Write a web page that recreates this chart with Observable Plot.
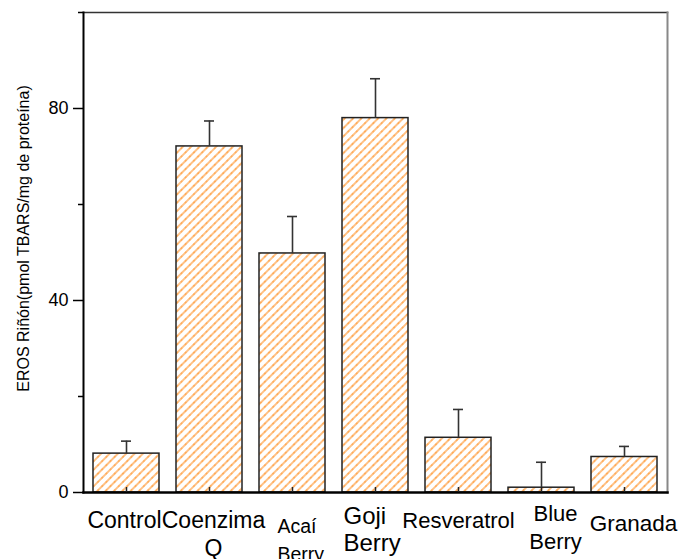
<!DOCTYPE html>
<html><head><meta charset="utf-8">
<script src="https://cdn.jsdelivr.net/npm/d3@7"></script>
<script src="https://cdn.jsdelivr.net/npm/@observablehq/plot@0.6"></script>
<style>
body{margin:0;background:#fff;}
svg{font-family:"Liberation Sans",Arial,sans-serif;}
</style>
</head><body><div id="chart"></div>
<script>
// ---- data ----
const categories = ["Control", "Coenzima Q", "Acaí Berry", "Goji Berry", "Resveratrol", "Blue Berry", "Granada"];
const means  = [8.1, 72.1, 49.8, 78.0, 11.4, 1.0, 7.4];
const errors = [2.6, 5.3, 7.7, 8.2, 5.9, 5.3, 2.2];
const labelLines = ["Control", "Coenzima\nQ", "Acaí\nBerry", "Goji\nBerry", "Resveratrol", "Blue\nBerry", "Granada"];
const yMajorTicks = [0, 40, 80];
const yMinorTicks = [20, 60, 100];
const yTitle = "EROS Riñón(pmol TBARS/mg de proteína)";

const data = categories.map((c, i) => ({category: c, mean: means[i], err: errors[i], label: labelLines[i]}));

// ---- label styling (kept separate from data) ----
const labelStyle = {
  "Control":     {dx: -2,  dy: 16, size: 23,   lh: 1.2,  anchor: "middle"},
  "Coenzima Q":  {dx: 4,   dy: 16, size: 23,   lh: 1.2,  anchor: "middle"},
  "Acaí Berry":  {dx: -15, dy: 20, size: 19.5, lh: 1.45, anchor: "start"},
  "Goji Berry":  {dx: -32, dy: 12, size: 24,   lh: 1.13, anchor: "start"},
  "Resveratrol": {dx: 0,   dy: 16, size: 22,   lh: 1.25, anchor: "middle"},
  "Blue Berry":  {dx: 14,  dy: 9,  size: 22,   lh: 1.25, anchor: "middle"},
  "Granada":     {dx: 9,   dy: 19, size: 22.5, lh: 1.25, anchor: "middle"}
};

const hatchDefs = () => {
  const ns = "http://www.w3.org/2000/svg";
  const defs = document.createElementNS(ns, "defs");
  const p = document.createElementNS(ns, "pattern");
  p.setAttribute("id", "hatch");
  p.setAttribute("patternUnits", "userSpaceOnUse");
  p.setAttribute("width", "5.9");
  p.setAttribute("height", "5.9");
  p.setAttribute("patternTransform", "rotate(45)");
  const r = document.createElementNS(ns, "rect");
  r.setAttribute("width", "5.9"); r.setAttribute("height", "5.9"); r.setAttribute("fill", "#fff");
  const l = document.createElementNS(ns, "line");
  l.setAttribute("x1", "2.95"); l.setAttribute("x2", "2.95");
  l.setAttribute("y1", "0"); l.setAttribute("y2", "5.9");
  l.setAttribute("stroke", "#ff8c1a");
  l.setAttribute("stroke-width", "1.4");
  l.setAttribute("stroke-dasharray", "1.6 0.5");
  p.appendChild(r); p.appendChild(l);
  defs.appendChild(p);
  return defs;
};

const chart = Plot.plot({
  width: 683,
  height: 559,
  marginTop: 12,
  marginBottom: 67,
  marginLeft: 83,
  marginRight: 16,
  style: {fontFamily: '"Liberation Sans", Arial, sans-serif', color: "#000", background: "#fff"},
  x: {domain: categories, paddingInner: 0.2, paddingOuter: 0.1, axis: null},
  y: {domain: [0, 100], axis: null},
  marks: [
    hatchDefs,
    Plot.barY(data, {x: "category", y: "mean", fill: "url(#hatch)", stroke: "#222", strokeWidth: 1.5}),
    Plot.ruleX(data, {x: "category", y1: "mean", y2: d => d.mean + d.err, stroke: "#333", strokeWidth: 1.6}),
    Plot.tickY(data, {x: "category", y: d => d.mean + d.err, stroke: "#333", strokeWidth: 1.6, insetLeft: 28, insetRight: 28}),
    // frame
    Plot.frame({anchor: "top", stroke: "#333", strokeWidth: 1.5}),
    Plot.frame({anchor: "right", stroke: "#888", strokeWidth: 2}),
    Plot.frame({anchor: "left", stroke: "#000", strokeWidth: 2}),
    Plot.frame({anchor: "bottom", stroke: "#000", strokeWidth: 2.5}),
    // axes
    Plot.axisY(yMajorTicks, {tickSize: 10, tickFormat: () => "", label: null, strokeWidth: 1.5, stroke: "#000"}),
    Plot.axisY(yMinorTicks, {tickSize: 5, tickFormat: () => "", label: null, strokeWidth: 1.5, stroke: "#000"}),
    Plot.text(yMajorTicks, {y: d => d, frameAnchor: "left", text: d => String(d), textAnchor: "end", dx: -15, fontSize: 18, fill: "#000"}),
    Plot.axisX({tickSize: -5, tickFormat: () => "", label: null, strokeWidth: 1.5, stroke: "#222"}),
    // x labels
    data.map(d => {
      const s = labelStyle[d.category];
      return Plot.text([d], {
        x: "category", frameAnchor: "bottom", text: "label", lineAnchor: "top",
        textAnchor: s.anchor, fontSize: s.size, dx: s.dx, dy: s.dy,
        lineHeight: s.lh, fill: "#000"
      });
    }),
    // y title
    Plot.text([yTitle], {frameAnchor: "left", textAnchor: "middle", text: d => d, rotate: -90, dx: -60, dy: -14, fontSize: 16, fill: "#000"})
  ]
});
document.getElementById("chart").appendChild(chart);
</script>
</body></html>
